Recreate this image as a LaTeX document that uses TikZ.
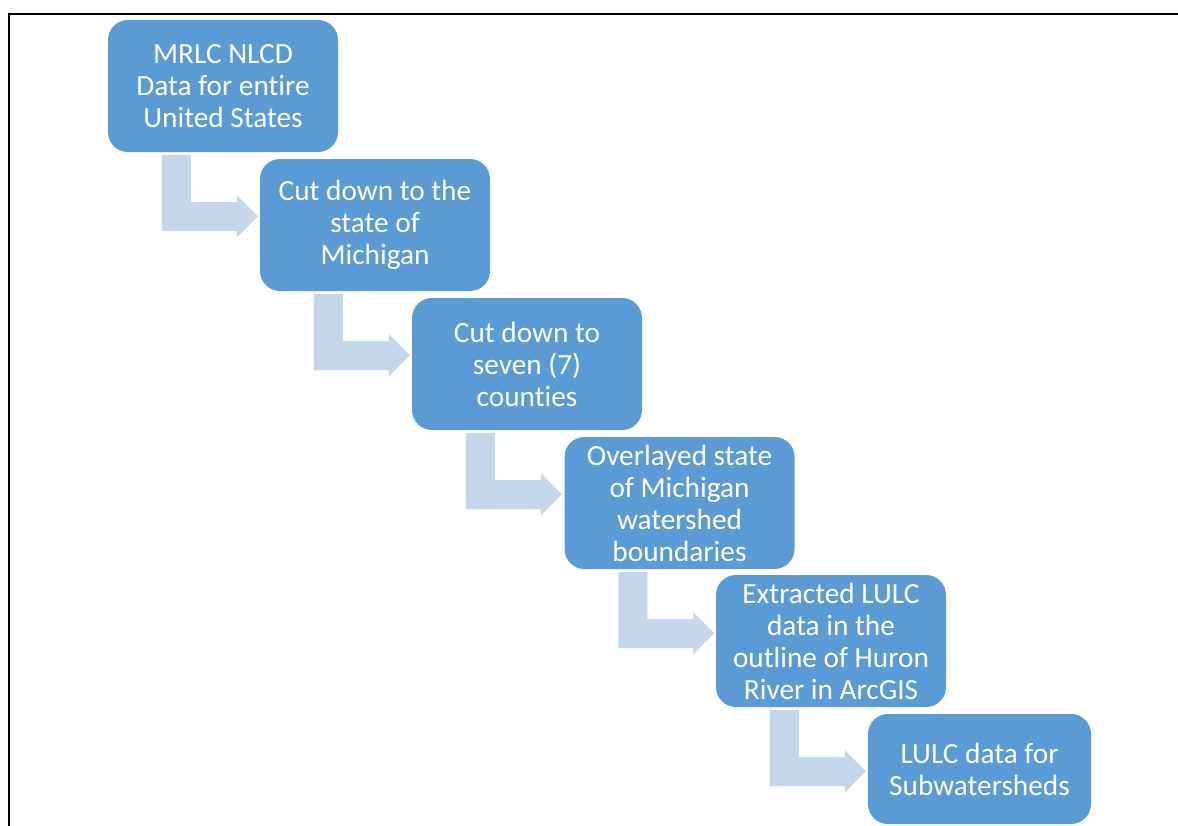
\documentclass[tikz,border=0pt]{standalone}
\usepackage{fontspec}
\setmainfont{Carlito}[Ligatures=NoCommon]
\usetikzlibrary{calc}
\definecolor{boxblue}{RGB}{91,155,213}
\definecolor{arrowblue}{RGB}{197,213,234}
\tikzset{
  stepbox/.style={fill=boxblue, rounded corners=20pt, minimum width=230pt, minimum height=132pt,
    inner sep=0pt, text=white, align=center, font=\fontsize{29.3}{32}\selectfont},
  bentarrow/.style={fill=arrowblue}
}
\newcommand{\bentconn}[2]{%
  \fill[bentarrow] ($(#1.south west)+(54,3)$) -- ($(#1.south west)+(83,3)$)
    -- ($(#1.south west)+(83,50)$) -- ($(#1.south west)+(129,50)$)
    -- ($(#1.south west)+(129,43)$) -- ($(#1.south west)+(150,64)$)
    -- ($(#1.south west)+(129,85)$) -- ($(#1.south west)+(129,79)$)
    -- ($(#1.south west)+(54,79)$) -- cycle;}
\begin{document}
\begin{tikzpicture}[x=1pt,y=-1pt]
\useasboundingbox (0,0) rectangle (1178,825);
\fill[white] (0,0) rectangle (1178,825);
\draw[line width=2pt] (9,826) -- (9,14) -- (1179,14);

\node[stepbox] (b1) at (223,86) {MRLC NLCD\\Data for entire\\United States};
\node[stepbox] (b2) at (375,225) {Cut down to the\\state of\\Michigan};
\node[stepbox] (b3) at (527,364) {Cut down to\\seven (7)\\counties};
\node[stepbox] (b4) at (679.5,503) {Overlayed state\\of Michigan\\watershed\\boundaries};
\node[stepbox] (b5) at (831,641) {Extracted LULC\\data in the\\outline of Huron\\River in ArcGIS};
\node[stepbox, minimum width=223pt, minimum height=110pt] (b6) at (979.5,769) {LULC data for\\Subwatersheds};

\bentconn{b1}{b2}
\bentconn{b2}{b3}
\bentconn{b3}{b4}
\bentconn{b4}{b5}
\bentconn{b5}{b6}
\end{tikzpicture}
\end{document}
